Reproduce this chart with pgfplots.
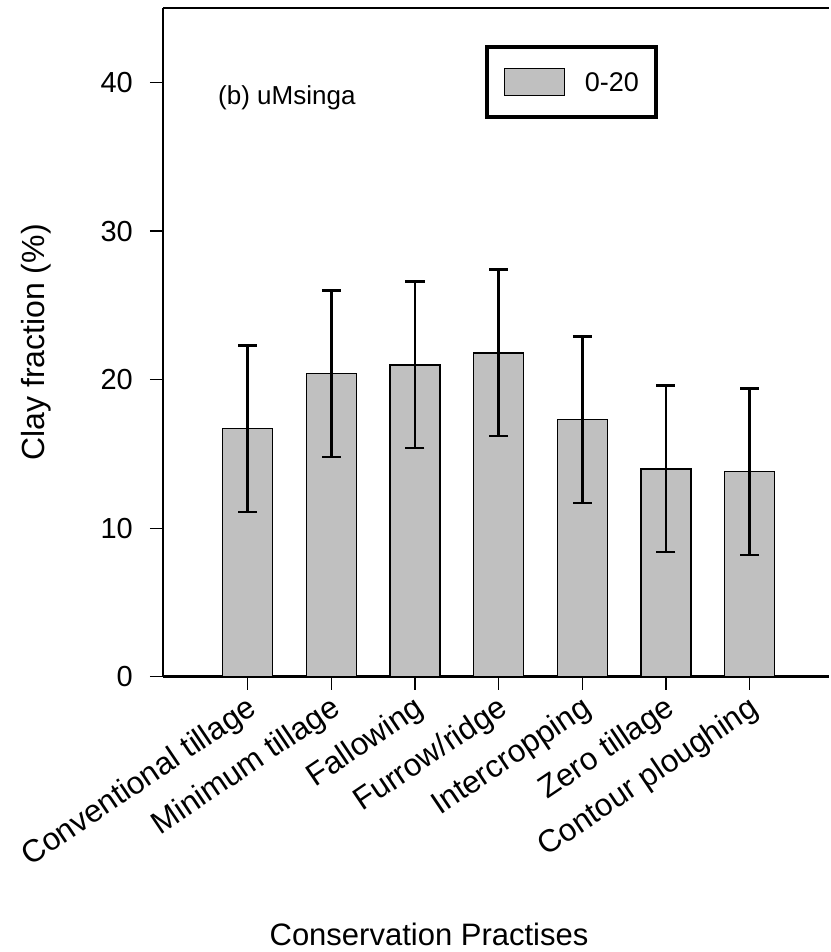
\documentclass[border=0pt]{standalone}
\usepackage{fontspec}
\setmainfont{Liberation Sans}
\usepackage{pgfplots}
\pgfplotsset{compat=1.18}
\definecolor{barfill}{RGB}{192,192,192}

\begin{document}
\begin{tikzpicture}
\begin{axis}[
  at={(0,0)}, anchor=south west,
  scale only axis, width=666pt, height=668.4pt,
  xmin=-1.013, xmax=6.95, ymin=0, ymax=45,
  axis x line*=bottom, axis y line*=left,
  x axis line style={line width=2.5pt},
  y axis line style={line width=1.5pt},
  ytick={0,10,20,30,40},
  xtick={0,...,6},
  xticklabels={Conventional tillage, Minimum tillage, Fallowing, Furrow/ridge, Intercropping, Zero tillage, Contour ploughing},
  tick align=outside, major tick length=13pt,
  tick style={black, line width=1.3pt},
  /pgf/number format/assume math mode=true,
  yticklabel style={font=\fontsize{29}{34}\selectfont, anchor=east, inner sep=0pt, xshift=-17pt},
  xticklabel style={font=\fontsize{31.5}{36}\selectfont, rotate=34, anchor=north east, inner sep=0pt, xshift=-4pt, yshift=-2pt},
  ylabel={Clay fraction (\%)},
  ylabel style={at={(axis description cs:-0.1907,0.5)}, anchor=center, font=\fontsize{32}{38}\selectfont},
  xlabel={Conservation Practises},
  xlabel style={at={(axis description cs:0.3994,-0.385)}, anchor=center, font=\fontsize{31}{36}\selectfont},
  legend style={at={(axis description cs:0.4835,0.945)}, anchor=north west,
    draw=black, line width=3.5pt, inner xsep=17pt, inner ysep=21pt,
    font=\fontsize{27}{31}\selectfont,
    /tikz/every odd column/.append style={column sep=20pt},
    nodes={inner sep=0pt}},
  legend image code/.code={
    \draw[fill=barfill, draw=black, line width=1.2pt] (0pt,-12.7pt) rectangle (60pt,14.3pt);
  },
  clip=false,
]
\addplot[ybar, bar width=50pt, fill=barfill, draw=black, line width=1.5pt,
  error bars/.cd, y dir=both, y explicit,
  error bar style={line width=2.5pt, black},
  error mark options={rotate=90, mark size=9.5pt, line width=2.5pt, black}]
  coordinates {
    (0,16.7) +- (0,5.6)
    (1,20.4) +- (0,5.6)
    (2,21.0) +- (0,5.6)
    (3,21.8) +- (0,5.6)
    (4,17.3) +- (0,5.6)
    (5,14.0) +- (0,5.6)
    (6,13.8) +- (0,5.6)
  };
\legend{0-20}
% top border of the frame
\draw[line width=2pt] (rel axis cs:0,1) -- (rel axis cs:1,1);
\node[anchor=west, font=\fontsize{26}{30}\selectfont, inner sep=0pt] at (axis cs:-0.355,39) {(b) uMsinga};
\end{axis}
\pgfresetboundingbox
\path[use as bounding box] (-163pt,-275.3pt) rectangle (667pt,676.7pt);
\end{tikzpicture}
\end{document}
